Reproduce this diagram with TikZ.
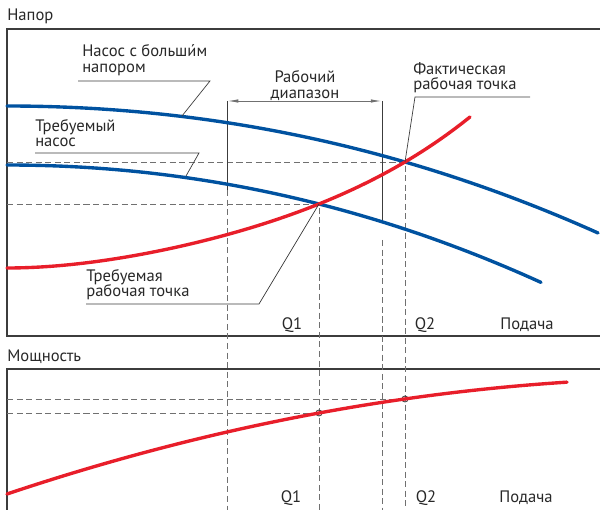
\documentclass[tikz,border=0pt]{standalone}
\usepackage{fontspec}
\setmainfont{PT Sans}
\usetikzlibrary{arrows.meta}
\definecolor{pumpblue}{RGB}{0,82,160}
\definecolor{curvered}{RGB}{232,30,42}
\definecolor{framegray}{RGB}{60,60,60}
\definecolor{dashgray}{RGB}{112,112,112}
\definecolor{textgray}{RGB}{40,40,40}

\begin{document}
\begin{tikzpicture}[x=0.025cm, y=-0.025cm,
    axis/.style={draw=framegray, line width=0.8pt},
    guide/.style={draw=dashgray, line width=0.7pt, dash pattern=on 4.3pt off 2.5pt},
    pump/.style={draw=pumpblue, line width=2.4pt, line cap=round},
    sys/.style={draw=curvered, line width=2.4pt, line cap=round},
    leader/.style={draw=framegray, line width=0.5pt},
    lbl/.style={inner sep=0, text=textgray, font=\fontsize{11.8}{11}\selectfont},
    note/.style={lbl, align=left, anchor=north west}]

\useasboundingbox (0,0) rectangle (600,510);

% frames
\draw[axis] (600,29) -- (7,29) -- (7,336) -- (600,336);
\draw[axis] (600,369) -- (7,369) -- (7,510);

\coordinate (req) at (319,204);
\coordinate (act) at (405,162);
\coordinate (preq) at (319,413);
\coordinate (pact) at (405,399);
\coordinate (rangeL) at (227,101);
\coordinate (rangeR) at (382,101);

% guides
\draw[guide] (7,162) -- (act) -- (405,510);
\draw[guide] (7,204) -- (req) -- (319,510);
\draw[guide] (7,399) -- (pact);
\draw[guide] (7,413) -- (preq);
\draw[guide] (227,190) -- (227,510);
\draw[guide] (382,240) -- (382,510);

% working range
\draw[leader, line width=0.6pt] (rangeL) -- (227,190);
\draw[leader, line width=0.6pt] (rangeR) -- (382,222);
\draw[dashgray, line width=0.7pt, {Latex[length=8pt,width=2.4pt]}-{Latex[length=8pt,width=2.4pt]}] (rangeL) -- (rangeR);

% curves
\draw[pump] plot[domain=7:598, samples=60] (\x, {106 + 3.328*((\x-7)/100)^2 + 0.052*((\x-7)/100)^3});
\draw[pump] plot[domain=7:541, samples=60] (\x, {165 + 3.85*((\x-7)/100)^2 + 0.05*((\x-7)/100)^3});
\draw[sys] plot[domain=7:470, samples=60] (\x, {268 - 9.47*((\x-7)/100)^2 + 1.76*((\x-7)/100)^3 - 0.267*((\x-7)/100)^4});
\draw[framegray, line width=0.6pt] (preq) circle (3) (pact) circle (3);
\draw[sys] plot[domain=7:567, samples=60] (\x, {494 - 33.49*((\x-7)/100) + 2.414*((\x-7)/100)^2});

% labels
\node[lbl, anchor=base west] (head) at (7,21) {Напор};
\node[lbl, anchor=base west] (power) at (7,362) {Мощность};
\node[lbl, anchor=base] (q1a) at (292,330) {Q1};
\node[lbl, anchor=base] (q2a) at (425,330) {Q2};
\node[lbl, anchor=base] (flowa) at (527,330) {Подача};
\node[lbl, anchor=base] (q1b) at (291,503) {Q1};
\node[lbl, anchor=base] (q2b) at (426,503) {Q2};
\node[lbl, anchor=base] (flowb) at (526,503) {Подача};

\node[note] (bigpump) at (82,44.5) {Насос с больши́м\\напором};
\node[note] (reqpump) at (35,119) {Требуемый\\насос};
\node[lbl, align=center, anchor=north] (range) at (305,70.5) {Рабочий\\диапазон};
\node[note] (actop) at (413,62) {Фактическая\\рабочая точка};
\node[note] (reqop) at (86,269) {Требуемая\\рабочая точка};

% leaders
\coordinate (bigpumpL) at (78,81);
\coordinate (bigpumpR) at (210,81);
\coordinate (bigpumpP) at (182,116);
\coordinate (reqpumpL) at (35,153);
\coordinate (reqpumpR) at (199,153);
\coordinate (reqpumpP) at (186,176);
\coordinate (actopL) at (415,97);
\coordinate (actopR) at (530,97);
\coordinate (reqopL) at (86,304);
\coordinate (reqopR) at (259,304);
\draw[leader] (bigpumpL) -- (bigpumpR) -- (bigpumpP);
\draw[leader] (reqpumpL) -- (reqpumpR) -- (reqpumpP);
\draw[leader] (actopR) -- (actopL) -- (act);
\draw[leader] (reqopL) -- (reqopR) -- (req);
\end{tikzpicture}
\end{document}
